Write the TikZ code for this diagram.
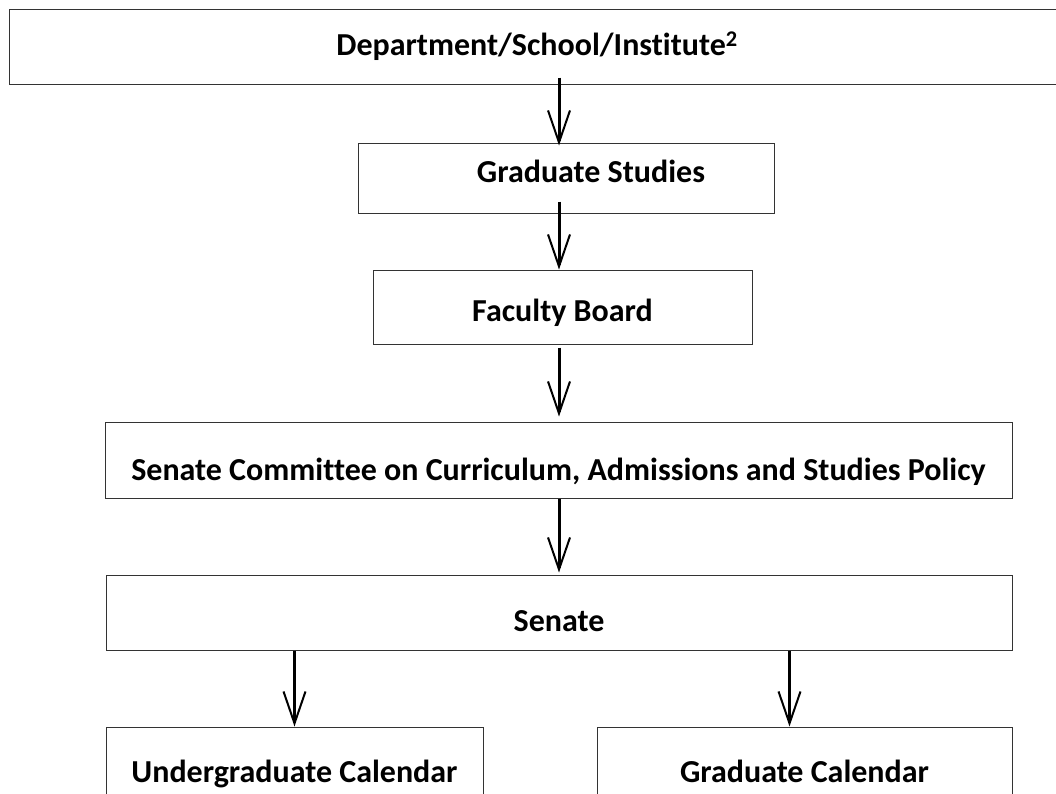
\documentclass[tikz,border=0pt]{standalone}
\usepackage{fontspec}
\setmainfont[Ligatures=NoCommon]{Carlito}
\usetikzlibrary{arrows.meta,positioning}

\begin{document}
\begin{tikzpicture}[
        x=1pt, y=-1pt,
        every node/.style={draw=black!80, line width=1pt, inner sep=0pt, align=center,
            font=\bfseries\fontsize{32}{36}\selectfont, text height=20.5pt, text depth=0pt},
        box/.style={minimum height=75pt},
        flow/.style={line width=3pt, -{Straight Barb[length=32pt, width=22pt, line width=2pt]}}
    ]
    \useasboundingbox (0,0) rectangle (1056,793);
    \clip (0,0) rectangle (1056,793);

    % Nodes
    \node (dept)[box, minimum width=1056pt, text depth=2pt] at (537,46.5) {Department/School/Institute\textsuperscript{2}};

    \node (grad)[below=58pt of dept, box, minimum width=416pt, minimum height=70pt,
        xshift=29pt, text depth=12pt] {\hspace*{50pt}Graduate Studies};
    \node (faculty)[below=56pt of grad, box, minimum width=379pt, minimum height=74pt,
        xshift=-3.5pt, text height=29.5pt] {Faculty Board};
    \node (sccasp)[below=77pt of faculty, box, minimum width=907pt, minimum height=76pt,
        xshift=-4pt, text height=40.5pt] {Senate Committee on Curriculum, Admissions and Studies Policy};
    \node (senate)[below=76pt of sccasp, box, minimum width=906pt,
        xshift=.5pt, text height=37.5pt] {Senate};

    \node (ucal)[below=76pt of senate.south west, anchor=north west, box, minimum width=377pt,
        text height=36.5pt] {Undergraduate Calendar};
    \node (gcal)[below=76pt of senate.south east, anchor=north east, box, minimum width=415pt,
        text height=36.5pt] {Graduate Calendar};

    \coordinate (axis) at (559,0);

    % Edges
    \draw[flow] ([yshift=7pt]dept.south -| axis) -- ([yshift=-3pt]grad.north -| axis);
    \draw[flow] ([yshift=12pt]grad.south -| axis) -- (faculty.north -| axis);
    \draw[flow] ([yshift=-3pt]faculty.south -| axis) -- ([yshift=5pt]sccasp.north -| axis);
    \draw[flow] (sccasp.south -| axis) -- ([yshift=2pt]senate.north -| axis);
    \draw[flow] (senate.south -| ucal.north) -- (ucal.north);
    \draw[flow] ([xshift=-15pt]gcal.north |- senate.south) -- ([xshift=-15pt]gcal.north);

\end{tikzpicture}
\end{document}
